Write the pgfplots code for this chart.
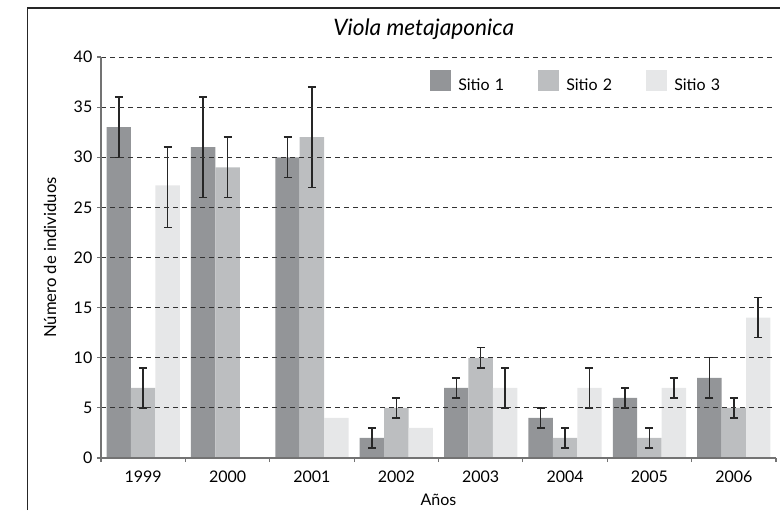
\documentclass[border=0pt]{standalone}
\usepackage{fontspec}
\setmainfont{Lato}
\usepackage{pgfplots}
\pgfplotsset{compat=1.18}
\definecolor{cA}{HTML}{939598}
\definecolor{cB}{HTML}{BCBEC0}
\definecolor{cC}{HTML}{E6E7E8}
\pgfplotsset{
  sqleg/.style={legend image code/.code={\fill[##1,draw=none] (0pt,-3.95pt) rectangle (15.75pt,11.8pt);}},
  errstyle/.style={error bars/.cd, y dir=both, y explicit,
     error bar style={line width=1.1pt, draw=black!85},
     error mark options={rotate=90, line width=1.1pt, draw=black!85, mark size=3pt}},
}
\begin{document}
\begin{tikzpicture}
\path[use as bounding box] (0,0) rectangle (585pt,382.5pt);
\draw[line width=1.2pt, black!85] (20.5pt,0) -- (20.5pt,376.3pt) -- (585pt,376.3pt);
\begin{axis}[
  at={(75.75pt,39pt)}, anchor=south west,
  scale only axis, width=506.25pt, height=300.75pt,
  xmin=-0.5, xmax=7.5, ymin=0, ymax=40,
  axis x line*=bottom, axis y line*=left,
  axis line style={black!55, line width=1pt, -},
  ybar, bar width=18.3pt,
  xtick={-0.5,0.5,1.5,2.5,3.5,4.5,5.5,6.5,7.5}, xticklabels={},
  extra x ticks={0,1,2,3,4,5,6,7},
  extra x tick labels={1999,2000,2001,2002,2003,2004,2005,2006},
  extra x tick style={major tick length=0pt, xticklabel style={yshift=-6pt}},
  ytick={0,5,...,40},
  ymajorgrids,
  grid style={dash pattern=on 3.75pt off 3pt, black!80, line width=0.7pt},
  tick align=outside, major tick length=3pt,
  tick style={black!55, line width=0.8pt},
  axis on top,
  /pgf/number format/assume math mode=true,
  tick label style={font=\fontsize{12}{14}\selectfont},
  title={\itshape Viola metajaponica},
  title style={at={(0.478,1)}, anchor=base, yshift=10.5pt, font=\fontsize{17}{20}\selectfont},
  ylabel={Número de individuos},
  ylabel style={at={(axis description cs:-0.0756,0.5)}, anchor=center, font=\fontsize{12.5}{14}\selectfont},
  xlabel={Años},
  xlabel style={at={(axis description cs:0.5,0)}, anchor=center, yshift=-31pt, font=\fontsize{12}{14}\selectfont},
  legend style={at={(0.4874,0.9676)}, anchor=north west, draw=none, fill=none,
    inner sep=0pt, font=\fontsize{12}{14}\selectfont,
    nodes={inner sep=0pt},
    /tikz/every odd column/.append style={column sep=5.25pt},
    /tikz/every even column/.append style={text width=60pt, align=left}},
  legend columns=3,
]
\addplot[fill=cA, draw=none, bar shift=-18.3pt, sqleg, errstyle]
  table[x=x, y=y, y error plus=ep, y error minus=em] {
x y ep em
0 33 3 3
1 31 5 5
2 30 2 2
3 2 1 1
4 7 1 1
5 4 1 1
6 6 1 1
7 8 2 2
};
\addlegendentry{Sitio 1}
\addplot[fill=cB, draw=none, bar shift=0pt, sqleg, errstyle]
  table[x=x, y=y, y error plus=ep, y error minus=em] {
x y ep em
0 7 2 2
1 29 3 3
2 32 5 5
3 5 1 1
4 10 1 1
5 2 1 1
6 2 1 1
7 5 1 1
};
\addlegendentry{Sitio 2}
\addplot[fill=cC, draw=none, bar shift=18.3pt, sqleg]
  table[x=x, y=y] {
x y
0 27.2
1 0
2 4
3 3
4 7
5 7
6 7
7 14
};
\addlegendentry{Sitio 3}
\addplot[fill=none, draw=none, bar shift=18.3pt, forget plot, errstyle]
  table[x=x, y=y, y error plus=ep, y error minus=em] {
x y ep em
0 27.2 3.8 4.2
4 7 2 2
5 7 2 2
6 7 1 1
7 14 2 2
};
\end{axis}
\end{tikzpicture}
\end{document}
